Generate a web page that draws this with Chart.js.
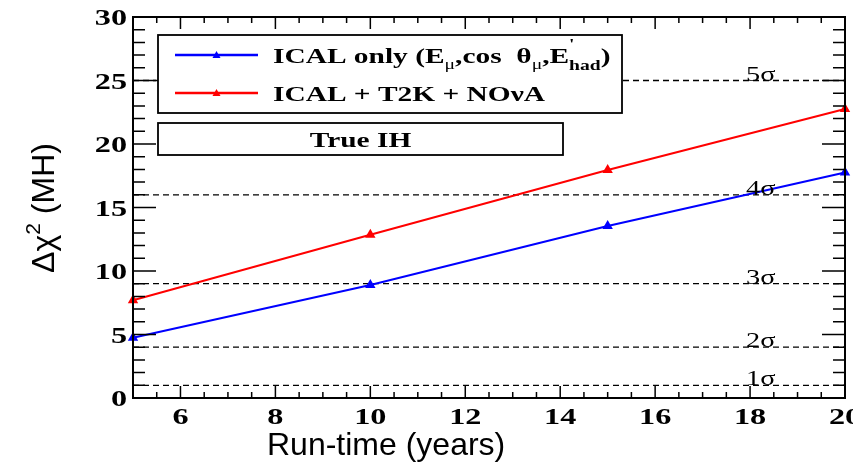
<!DOCTYPE html>
<html>
<head>
<meta charset="utf-8">
<title>Delta chi2 (MH) vs run-time</title>
<script src="https://cdn.jsdelivr.net/npm/chart.js@4.4.1/dist/chart.umd.min.js"></script>
<style>
  html, body { margin: 0; padding: 0; background: #ffffff; }
  #chart { display: block; }
</style>
</head>
<body>
<canvas id="chart" width="853" height="462"></canvas>
<script>
//run-time in years
const years = [5, 10, 15, 20];
//Delta chi2 for ICAL alone and combined with T2K + NOvA
const icalOnly = [4.75, 8.9, 13.55, 17.75];
const icalT2kNova = [7.7, 12.85, 17.95, 22.75];
//significance levels, drawn at chi2 = n^2
const sigmaLevels = [1, 2, 3, 4, 5];
//tick labels
const xTickLabels = [6, 8, 10, 12, 14, 16, 18, 20];
const yTickLabels = [0, 5, 10, 15, 20, 25, 30];

const serif = "'Liberation Serif', 'Times New Roman', serif";
const sans = "'Liberation Sans', Arial, sans-serif";
//serif text is drawn wide
const wide = 1.4;

const toPoints = (ys) => years.map((x, i) => ({ x: x, y: ys[i] }));

//dashed sigma lines across the whole x range
const sigmaSets = sigmaLevels.map((n) => ({
  label: n + "σ",
  data: [{ x: years[0], y: n * n }, { x: years[years.length - 1], y: n * n }],
  borderColor: "#000000",
  borderWidth: 1.3,
  borderDash: [6, 4],
  pointRadius: 0,
  showLine: true,
  order: 3,
}));

const curveSet = (label, ys, color) => ({
  label: label,
  data: toPoints(ys),
  borderColor: color,
  backgroundColor: color,
  borderWidth: 2,
  pointStyle: "triangle",
  pointRadius: 4,
  showLine: true,
  clip: false,
  order: 1,
});

//draw text stretched horizontally by sx
function wideText(ctx, txt, x, y, sx, align) {
  ctx.save();
  ctx.translate(x, y);
  ctx.scale(sx, 1);
  ctx.textAlign = align || "left";
  ctx.fillText(txt, 0, 0);
  ctx.restore();
}

//draw a run of pieces [text, font, dy, keepX] left to right
function runText(ctx, pieces, x, y) {
  pieces.forEach((p) => {
    ctx.font = p[1];
    wideText(ctx, p[0], x, y + p[2], wide);
    //superscript shares its x with the following subscript
    if (!p[3]) x += ctx.measureText(p[0]).width * wide;
  });
  return x;
}

//frame, ticks, labels, legend boxes
const rootStyle = {
  id: "rootStyle",
  afterDatasetsDraw(chart) {
    const ctx = chart.ctx;
    const a = chart.chartArea;
    const xs = chart.scales.x;
    const ys = chart.scales.y;
    ctx.save();
    ctx.strokeStyle = "#000000";
    ctx.fillStyle = "#000000";

    //minor and major ticks on all four sides
    ctx.lineWidth = 1.5;
    ctx.beginPath();
    for (let v = 5; v <= 20.001; v += 0.5) {
      const px = xs.getPixelForValue(v);
      const major = xTickLabels.includes(v);
      const len = major ? 12 : 6;
      ctx.moveTo(px, a.bottom);
      ctx.lineTo(px, a.bottom - len);
      ctx.moveTo(px, a.top);
      ctx.lineTo(px, a.top + len);
    }
    for (let v = 0; v <= 30; v += 1) {
      const py = ys.getPixelForValue(v);
      const len = v % 5 === 0 ? 23 : 12;
      ctx.moveTo(a.left, py);
      ctx.lineTo(a.left + len, py);
      ctx.moveTo(a.right, py);
      ctx.lineTo(a.right - len, py);
    }
    ctx.stroke();

    //frame
    ctx.lineWidth = 2;
    ctx.strokeRect(a.left, a.top, a.right - a.left, a.bottom - a.top);

    //tick labels
    ctx.font = "bold 23px " + serif;
    ctx.textBaseline = "alphabetic";
    xTickLabels.forEach((v) => {
      wideText(ctx, String(v), xs.getPixelForValue(v), a.bottom + 26, wide, "center");
    });
    yTickLabels.forEach((v) => {
      wideText(ctx, String(v), a.left - 6, ys.getPixelForValue(v) + 8, wide, "right");
    });

    //sigma labels
    ctx.font = "21px " + serif;
    sigmaLevels.forEach((n) => {
      wideText(ctx, n + "σ", 746, ys.getPixelForValue(n * n), 1.35, "left");
    });

    //axis titles
    ctx.font = "32px " + sans;
    ctx.textAlign = "left";
    ctx.fillText("Run-time (years)", 267, 455);

    ctx.save();
    ctx.translate(54, 208);
    ctx.rotate(-Math.PI / 2);
    ctx.font = "32px " + sans;
    const w1 = ctx.measureText("Δχ").width;
    const w3 = ctx.measureText(" (MH)").width;
    ctx.font = "21px " + sans;
    const w2 = ctx.measureText("2").width;
    let tx = -(w1 + w2 + w3) / 2;
    ctx.font = "32px " + sans;
    ctx.fillText("Δχ", tx, 0);
    tx += w1;
    ctx.font = "21px " + sans;
    ctx.fillText("2", tx, -14);
    tx += w2;
    ctx.font = "32px " + sans;
    ctx.fillText(" (MH)", tx, 0);
    ctx.restore();

    //legend box
    ctx.lineWidth = 1.8;
    ctx.fillStyle = "#ffffff";
    ctx.fillRect(158, 35, 464, 78);
    ctx.strokeRect(158, 35, 464, 78);
    ctx.fillRect(158, 123, 405, 32);
    ctx.strokeRect(158, 123, 405, 32);

    const entries = chart.data.datasets.filter((d) => d.order === 1);
    const rowsY = [55, 93];
    entries.forEach((d, i) => {
      const y = rowsY[i];
      ctx.strokeStyle = d.borderColor;
      ctx.fillStyle = d.borderColor;
      ctx.lineWidth = 2.5;
      ctx.beginPath();
      ctx.moveTo(175, y);
      ctx.lineTo(258, y);
      ctx.stroke();
      ctx.beginPath();
      ctx.moveTo(216.5, y - 4);
      ctx.lineTo(220.5, y + 3);
      ctx.lineTo(212.5, y + 3);
      ctx.closePath();
      ctx.fill();
    });

    ctx.fillStyle = "#000000";
    const big = "bold 21px " + serif;
    const sub = "14px " + serif;
    const subB = "bold 14px " + serif;
    runText(ctx, [
      ["ICAL only (E", big, 0],
      ["μ", sub, 6],
      [",cos  θ", big, 0],
      ["μ", sub, 6],
      [",E", big, 0],
      ["'", subB, -14, true],
      ["had", subB, 7],
      [")", big, 0],
    ], 273, 63);
    runText(ctx, [["ICAL + T2K + NOνA", big, 0]], 273, 101);

    ctx.font = big;
    wideText(ctx, "True IH", 360.5, 147, wide, "center");

    ctx.restore();
  },
};

const chart = new Chart(document.getElementById("chart"), {
  type: "scatter",
  data: {
    datasets: [
      curveSet("ICAL only", icalOnly, "#0000ff"),
      curveSet("ICAL + T2K + NOvA", icalT2kNova, "#ff0000"),
      ...sigmaSets,
    ],
  },
  options: {
    responsive: false,
    devicePixelRatio: 1,
    animation: false,
    layout: { padding: { left: 133, right: 8, top: 17, bottom: 64 } },
    scales: {
      x: { type: "linear", min: 5, max: 20, display: false },
      y: { type: "linear", min: 0, max: 30, display: false },
    },
    plugins: {
      legend: { display: false },
      tooltip: { enabled: false },
    },
  },
  plugins: [rootStyle],
});
</script>
</body>
</html>
